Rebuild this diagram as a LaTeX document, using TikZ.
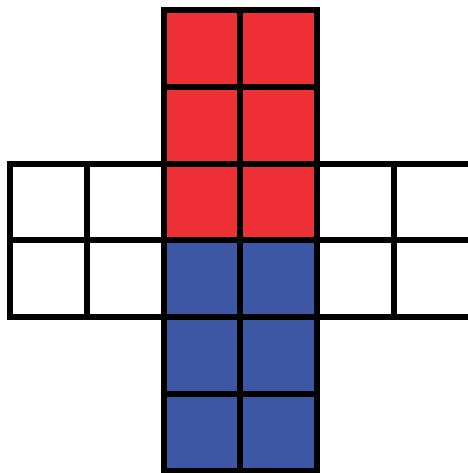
\documentclass[tikz,border=0pt]{standalone}

\definecolor{cubered}{RGB}{238,49,55}
\definecolor{cubeblue}{RGB}{62,87,164}

\tikzset{
cell/.style={
draw,
line width=2.2pt,
minimum size=1cm,
inner sep=0pt,
outer sep=0pt
}
}

\begin{document}
\begin{tikzpicture}[y=-1cm]

%%%%%%%%%%%%%%%%%%%%%%%%%%%%%%%%%%%%%%%%%%%%%%%%%%%%%%%%%%%%%%
% FRAME
%%%%%%%%%%%%%%%%%%%%%%%%%%%%%%%%%%%%%%%%%%%%%%%%%%%%%%%%%%%%%%

\useasboundingbox (-0.13,-0.13) rectangle (5.964,6.029);
\clip (-0.13,-0.13) rectangle (5.964,6.029);

%%%%%%%%%%%%%%%%%%%%%%%%%%%%%%%%%%%%%%%%%%%%%%%%%%%%%%%%%%%%%%
% SIDE ARMS
%%%%%%%%%%%%%%%%%%%%%%%%%%%%%%%%%%%%%%%%%%%%%%%%%%%%%%%%%%%%%%

\foreach \r in {2,3}
\foreach \c in {0,1,4,5}
\node[cell, fill=white] (arm-\r-\c) at (\c+0.5,\r+0.5) {};

%%%%%%%%%%%%%%%%%%%%%%%%%%%%%%%%%%%%%%%%%%%%%%%%%%%%%%%%%%%%%%
% RED HALF
%%%%%%%%%%%%%%%%%%%%%%%%%%%%%%%%%%%%%%%%%%%%%%%%%%%%%%%%%%%%%%

\foreach \r in {0,1,2}
\foreach \c in {2,3}
\node[cell, fill=cubered] (red-\r-\c) at (\c+0.5,\r+0.5) {};

%%%%%%%%%%%%%%%%%%%%%%%%%%%%%%%%%%%%%%%%%%%%%%%%%%%%%%%%%%%%%%
% BLUE HALF
%%%%%%%%%%%%%%%%%%%%%%%%%%%%%%%%%%%%%%%%%%%%%%%%%%%%%%%%%%%%%%

\foreach \r in {3,4,5}
\foreach \c in {2,3}
\node[cell, fill=cubeblue] (blue-\r-\c) at (\c+0.5,\r+0.5) {};

\end{tikzpicture}
\end{document}
